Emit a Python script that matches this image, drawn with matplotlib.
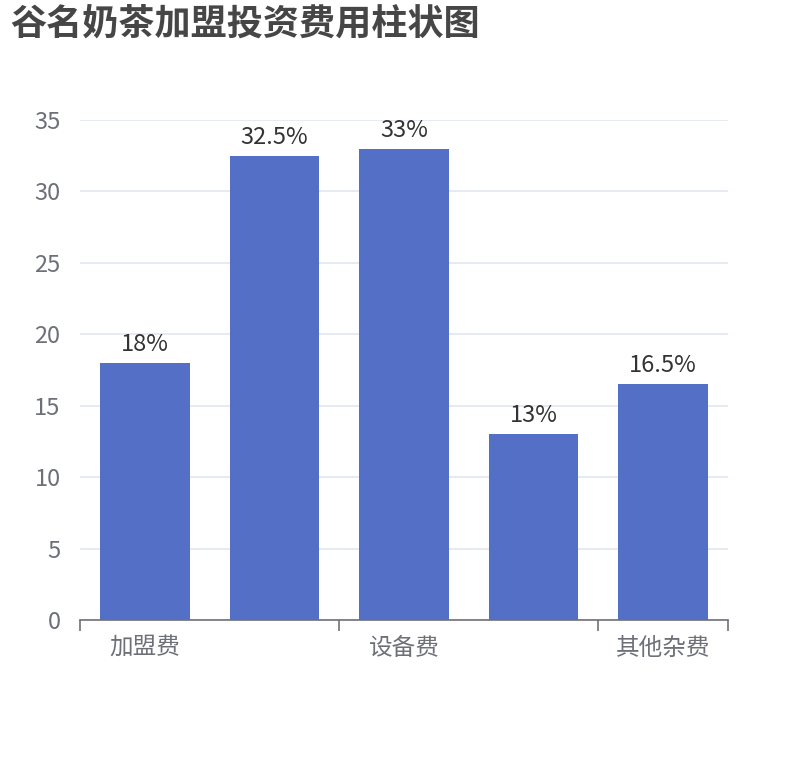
import matplotlib
matplotlib.use("Agg")
import matplotlib.pyplot as plt
import numpy as np

plt.rcParams['font.family'] = ['Noto Sans CJK SC', 'DejaVu Sans']

# data
categories = ['加盟费', '保证金', '设备费', '装修费', '其他杂费']
values = [18, 32.5, 33, 13, 16.5]
shown_labels = ['加盟费', '', '设备费', '', '其他杂费']
title = '谷名奶茶加盟投资费用柱状图'

fig = plt.figure(figsize=(8.1, 7.6), dpi=100)
ax = fig.add_axes([80 / 810, 140 / 760, 648 / 810, 500 / 760])

x = np.arange(len(categories))
bars = ax.bar(x, values, width=0.69, color='#5470C6', zorder=3)

for xi, v in zip(x, values):
    ax.annotate('%g%%' % v, (xi, v), xytext=(0, 5), textcoords='offset points',
                ha='center', va='bottom', fontsize=17, color='#333333')

ax.set_xlim(-0.5, len(categories) - 0.5)
ax.set_ylim(0, 35)
ax.set_yticks(range(0, 36, 5))
ax.grid(axis='y', color='#E0E6F1', linewidth=1.2, zorder=0)

# x axis: labels at centres, ticks on category boundaries every 2
ax.set_xticks(x)
ax.set_xticklabels(shown_labels)
ax.tick_params(axis='x', length=0, pad=12, labelsize=17, labelcolor='#6E7079')
ax.set_xticks([-0.5, 1.5, 3.5, 4.5], minor=True)
ax.tick_params(axis='x', which='minor', length=8, width=1.2, color='#6E7079')
ax.tick_params(axis='y', length=0, pad=14, labelsize=17, labelcolor='#6E7079')

for s in ['top', 'right', 'left']:
    ax.spines[s].set_visible(False)
ax.spines['bottom'].set_color('#6E7079')
ax.spines['bottom'].set_linewidth(1.2)
ax.spines['bottom'].set_zorder(4)

fig.text(10 / 810, 1 - 6 / 760, title, fontsize=26, fontweight='bold',
         color='#464646', ha='left', va='top')

fig.savefig('out.png', dpi=100)
